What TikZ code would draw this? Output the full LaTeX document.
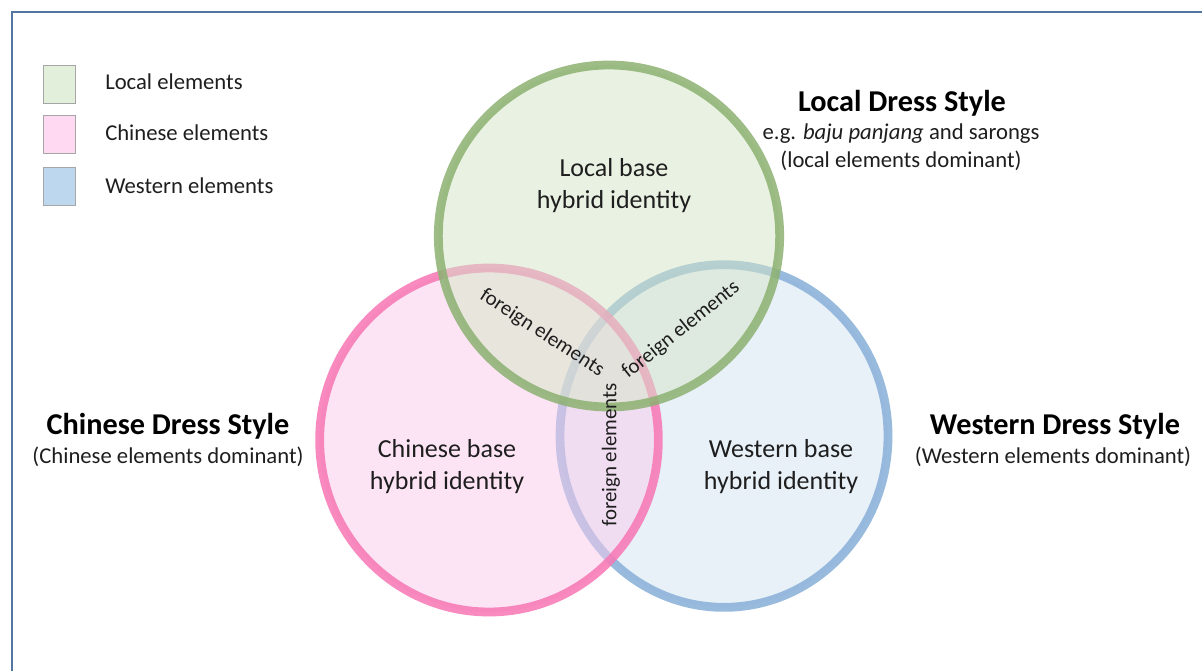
\documentclass[tikz,border=0pt]{standalone}
\usepackage{fontspec}
\setmainfont{Carlito}
\definecolor{frameblue}{RGB}{84,117,160}
\definecolor{gstroke}{RGB}{140,177,113}
\definecolor{pstroke}{RGB}{247,118,180}
\definecolor{bstroke}{RGB}{135,175,216}
\definecolor{gfill}{RGB}{213,230,199}
\definecolor{pfill}{RGB}{251,203,236}
\definecolor{bfill}{RGB}{211,226,243}
\definecolor{leggreen}{RGB}{226,239,218}
\definecolor{legpink}{RGB}{255,217,242}
\definecolor{legblue}{RGB}{189,215,238}
\definecolor{txt}{RGB}{30,30,30}
\begin{document}
\begin{tikzpicture}[x=0.75pt,y=-0.75pt,
  ring/.style={line width=6.6pt, draw opacity=0.85, fill opacity=0.5},
  legbox/.style={draw=black!35, line width=0.6pt, minimum width=24pt, minimum height=28.5pt, inner sep=0pt},
  legtext/.style={anchor=west, inner sep=0pt, text=txt, font=\fontsize{17}{20}\selectfont},
  body/.style={align=center, inner sep=0pt, text=txt, font=\fontsize{19.5}{24}\selectfont},
  title/.style={align=center, inner sep=0pt, text=black, font=\fontsize{22.7}{26}\selectfont\bfseries},
  sub/.style={align=center, inner sep=0pt, text=txt, font=\fontsize{17}{21}\selectfont},
  foreign/.style={inner sep=0pt, text=txt, font=\fontsize{15.7}{18}\selectfont}]
\useasboundingbox (0,0) rectangle (1202,671);
\fill[white] (0,0) rectangle (1202,671);
% frame
\coordinate (fa) at (12,671);
\coordinate (fb) at (12,12);
\coordinate (fc) at (1202,12);
\draw[frameblue, line width=1.6pt] (fa) -- (fb) -- (fc);
% circles (blue, pink, green order)
\draw[ring, draw=bstroke, fill=bfill] (724,436) ellipse [x radius=123pt, y radius=128.5pt];
\draw[ring, draw=pstroke, fill=pfill] (489,440) ellipse [x radius=127pt, y radius=129pt];
\draw[ring, draw=gstroke, fill=gfill] (609,236) ellipse [x radius=128pt, y radius=128.25pt];
% legend
\node[legbox, fill=leggreen] (lg1) at (59,84) {};
\node[legbox, fill=legpink] (lg2) at (59,134) {};
\node[legbox, fill=legblue] (lg3) at (59,186) {};
\node[legtext] (lt1) at (105,82) {Local elements};
\node[legtext] (lt2) at (105,133) {Chinese elements};
\node[legtext] (lt3) at (105,186) {Western elements};
% titles
\node[title] (tl) at (902,103) {Local Dress Style};
\node[sub] (tl2) at (901,147) {e.g. \textit{baju panjang} and sarongs\\(local elements dominant)};
\node[title] (tc) at (168,426) {Chinese Dress Style};
\node[sub] (tc2) at (168,457) {(Chinese elements dominant)};
\node[title] (tw) at (1055,426) {Western Dress Style};
\node[sub] (tw2) at (1053,457) {(Western elements dominant)};
% body
\node[body] (bl) at (614,186) {Local base\\hybrid identity};
\node[body] (bc) at (447,467) {Chinese base\\hybrid identity};
\node[body] (bw) at (781,467) {Western base\\hybrid identity};
% foreign elements
\node[foreign, rotate=-33] (f1) at (542,333) {foreign elements};
\node[foreign, rotate=38.5] (f2) at (681,330) {foreign elements};
\node[foreign, rotate=90] (f3) at (611,455) {foreign elements};
\end{tikzpicture}
\end{document}
